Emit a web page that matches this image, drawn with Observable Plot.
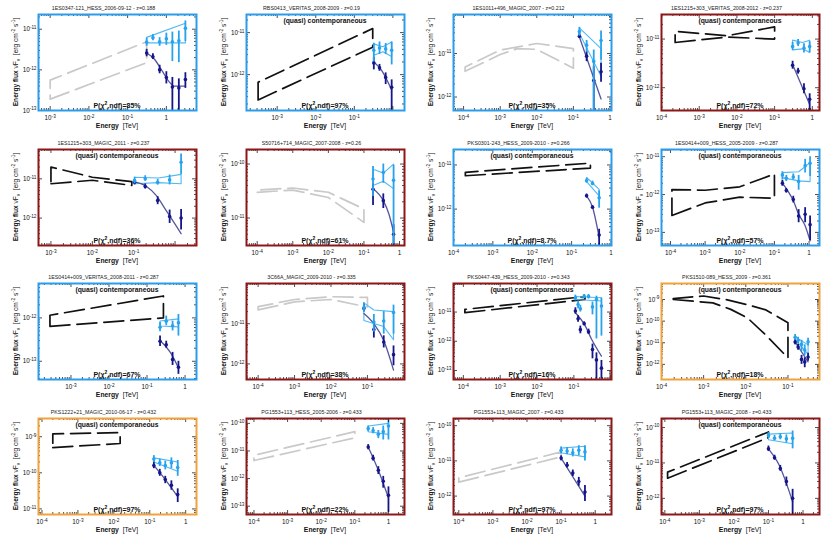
<!DOCTYPE html>
<html><head><meta charset="utf-8">
<script src="https://cdn.jsdelivr.net/npm/d3@7"></script>
<script src="https://cdn.jsdelivr.net/npm/@observablehq/plot@0.6"></script>
<style>
body{margin:0;background:#fff;}
#grid{position:relative;width:830px;height:538px;background:#fff;}
.panel{position:absolute;}
svg text{white-space:pre;}
</style></head><body><div id="grid"></div>
<script>
// ---------- DATA ----------
const titles = [
 "1ES0347-121_HESS_2006-09-12 - z=0.188","RBS0413_VERITAS_2008-2009 - z=0.19","1ES1011+496_MAGIC_2007 - z=0.212","1ES1215+303_VERITAS_2008-2012 - z=0.237",
 "1ES1215+303_MAGIC_2011 - z=0.237","S50716+714_MAGIC_2007-2008 - z=0.26","PKS0301-243_HESS_2009-2010 - z=0.266","1ES0414+009_HESS_2005-2009 - z=0.287",
 "1ES0414+009_VERITAS_2008-2011 - z=0.287","3C66A_MAGIC_2009-2010 - z=0.335","PKS0447-439_HESS_2009-2010 - z=0.343","PKS1510-089_HESS_2009 - z=0.361",
 "PKS1222+21_MAGIC_2010-06-17 - z=0.432","PG1553+113_HESS_2005-2006 - z=0.433","PG1553+113_MAGIC_2007 - z=0.433","PG1553+113_MAGIC_2008 - z=0.433"];
const pValues = ["85%","97%","35%","72%","36%","61%","8.7%","57%","67%","38%","16%","18%","97%","22%","97%","97%"];
const frameColors = ["blue","blue","blue","red","red","red","blue","blue","blue","red","red","orange","orange","red","red","red"];
const contemporaneous = [false,true,false,true,true,false,true,true,true,false,true,true,true,false,false,true];
const xDomains = [[5e-4,6],[1.6e-4,2],[5.3e-5,1.1],[1e-4,1.55],[5e-4,3.3],[5e-5,1.38],[1e-4,1.03],[5.5e-5,2],
 [1.4e-4,2],[4.8e-5,1.04],[5.4e-5,1.05],[1e-4,0.56],[8e-5,2],[6e-5,3],[7e-5,3],[8e-5,3]];
const yDomains = [[1e-13,2.3e-11],[1.4e-13,2.7e-11],[4.9e-13,7.9e-11],[3.4e-13,3.2e-11],[2e-13,5.6e-11],[3.1e-12,1.86e-10],[1.5e-13,2.24e-11],[4.5e-14,1.55e-11],
 [3.8e-14,6.2e-12],[4.1e-13,1e-10],[4.9e-14,9.5e-11],[2e-13,5.5e-9],[7e-12,3.2e-9],[5e-14,1.5e-10],[3e-13,1.6e-10],[3.5e-13,1.8e-10]];
const xTickLabels = [[1e-3,1e-2,1e-1,1],[1e-3,1e-2,1e-1],[1e-4,1e-3,1e-2,1e-1,1],[1e-4,1e-3,1e-2,1e-1,1],
 [1e-3,1e-2,1e-1],[1e-4,1e-3,1e-2,1e-1,1],[1e-4,1e-3,1e-2,1e-1,1],[1e-4,1e-3,1e-2,1e-1,1],
 [1e-3,1e-2,1e-1,1],[1e-4,1e-3,1e-2,1e-1],[1e-4,1e-3,1e-2,1e-1],[1e-4,1e-3,1e-2,1e-1],
 [1e-4,1e-3,1e-2,1e-1,1],[1e-4,1e-3,1e-2,1e-1,1],[1e-4,1e-3,1e-2,1e-1,1],[1e-4,1e-3,1e-2,1e-1,1]];
const yTickLabels = [[1e-13,1e-12,1e-11],[1e-12,1e-11],[1e-12,1e-11],[1e-12,1e-11],
 [1e-12,1e-11],[1e-11,1e-10],[1e-12,1e-11],[1e-13,1e-12,1e-11],
 [1e-13,1e-12],[1e-12,1e-11],[1e-13,1e-12,1e-11],[1e-12,1e-11,1e-10,1e-9],
 [1e-11,1e-10,1e-9],[1e-13,1e-12,1e-11,1e-10],[1e-12,1e-11,1e-10],[1e-12,1e-11,1e-10]];
// lower-energy (MWL) butterflies: lower edge left->right, then upper edge right->left
const mwlButterflies = [
 [[1e-3,1.9e-13],[0.31,1.5e-12],[0.31,4.9e-12],[1e-3,5.6e-13]],
 [[3.2e-4,2.5e-13],[0.3,4.5e-12],[0.3,1.25e-11],[3.2e-4,6.6e-13]],
 [[1.1e-4,3.9e-12],[1e-3,9.5e-12],[3e-3,1.3e-11],[1e-2,1.25e-11],[0.1,4.6e-12],[0.1,1.3e-11],[1e-2,1.7e-11],[1e-3,1.2e-11],[1.1e-4,4.9e-12]],
 [[2.3e-4,8.5e-12],[5.5e-3,1.1e-11],[0.1,1e-11],[0.1,1.78e-11],[5.5e-3,1.17e-11],[2.3e-4,1.44e-11]],
 [[1e-3,7.5e-12],[1e-2,9.2e-12],[0.09,6.8e-12],[0.09,8.5e-12],[1e-2,1.1e-11],[1e-3,2e-11]],
 [[1e-4,3e-11],[1e-3,3.3e-11],[1e-2,2.4e-11],[0.1,8.3e-12],[0.1,1.47e-11],[1e-2,3e-11],[1e-3,3.6e-11],[1e-4,3.3e-11]],
 [[2e-4,5.7e-12],[0.3,8.5e-12],[0.3,1.1e-11],[2e-4,6.8e-12]],
 [[1.1e-4,2.8e-13],[1e-3,6e-13],[1e-2,8.5e-13],[0.1,8e-13],[0.1,3.5e-12],[1e-2,1.6e-12],[1e-3,1.3e-12],[1.1e-4,1.35e-12]],
 [[2.8e-4,6.4e-13],[0.27,1e-12],[0.27,3.2e-12],[2.8e-4,1.15e-12]],
 [[1e-4,2.2e-11],[1e-3,3.5e-11],[1e-2,4e-11],[0.1,2.6e-11],[0.1,4.5e-11],[1e-2,4.7e-11],[1e-3,4e-11],[1e-4,2.66e-11]],
 [[1.1e-4,9.5e-12],[0.2,2.7e-11],[0.2,3.4e-11],[1.1e-4,1.23e-11]],
 [[1.9e-4,1e-9],[1.65e-3,7e-10],[4.4e-3,3.5e-10],[1.1e-2,1.4e-10],[2.9e-2,2.4e-11],[0.1,2e-12],[0.1,8.4e-11],[3e-2,3.3e-10],[1e-2,6e-10],[3.3e-3,1e-9],[1e-3,1.45e-9],[1.9e-4,1.1e-9]],
 [[2e-4,5e-10],[1.5e-2,6.5e-10],[1.5e-2,1.3e-9],[2e-4,1.2e-9]],
 [[1e-4,4.5e-12],[0.1,3e-11],[0.1,5e-11],[1e-4,7e-12]],
 [[1e-4,2.5e-12],[0.1,1.3e-11],[0.1,1.8e-11],[1e-4,3.3e-12]],
 [[1.2e-4,3.7e-12],[0.1,5.2e-11],[0.1,7.5e-11],[1.2e-4,5.5e-12]]];
// observed VHE points [E, flux, low, high]
const obsPoints = [
 [[0.31,2.6e-12,2.1e-12,3.2e-12],[0.45,2.1e-12,1.8e-12,2.5e-12],[0.67,1e-12,8e-13,1.3e-12],[1,6.5e-13,4.5e-13,9e-13],[1.43,3.8e-13,1e-13,6.5e-13],[2.1,3.6e-13,1e-13,6e-13],[3.1,5.8e-13,3.5e-13,8.5e-13]],
 [[0.32,1.9e-12,1.3e-12,2.6e-12],[0.45,1.45e-12,1.2e-12,1.75e-12],[0.65,8.6e-13,5.8e-13,1.1e-12],[0.93,5e-13,1.4e-13,7.5e-13]],
 [[0.146,2.5e-11,2.2e-11,2.9e-11],[0.23,8.7e-12,6.5e-12,1.1e-11],[0.36,2.4e-12,4.9e-13,5e-12],[0.57,3.8e-12,2.2e-12,6e-12]],
 [[0.3,2.9e-12,2.4e-12,3.5e-12],[0.42,2.2e-12,1.9e-12,2.5e-12],[0.6,9.5e-13,7.5e-13,1.2e-12],[0.85,5.8e-13,3.4e-13,7.5e-13]],
 [[0.105,8.2e-12,7e-12,9.5e-12],[0.19,6.4e-12,5.5e-12,7.4e-12],[0.38,2.8e-12,2.2e-12,3.5e-12],[0.74,1.1e-12,7.3e-13,1.6e-12],[1.4,1e-12,5e-13,1.65e-12]],
 [[0.18,3.4e-11,1.7e-11,4.3e-11],[0.35,2.1e-11,1.5e-11,2.8e-11],[0.68,5e-12,3.1e-12,7.5e-12]],
 [[0.24,2e-12,1.8e-12,2.2e-12],[0.34,1.1e-12,1e-12,1.2e-12],[0.5,2.6e-13,1.5e-13,3.5e-13]],
 [[0.17,2e-12,1.65e-12,2.4e-12],[0.22,1.27e-12,1.1e-12,1.45e-12],[0.35,7.4e-13,6e-13,9e-13],[0.5,2.7e-13,1.8e-13,4e-13],[0.77,3e-13,1.8e-13,4.5e-13],[1.07,1.6e-13,6e-14,2.7e-13]],
 [[0.22,2.9e-13,2.2e-13,3.8e-13],[0.32,2.4e-13,2e-13,2.9e-13],[0.47,1.1e-13,8e-14,1.6e-13],[0.67,7.3e-14,5e-14,1e-13]],
 [[0.08,2.4e-11,2e-11,3e-11],[0.15,7.2e-12,4.4e-12,1e-11],[0.28,3.5e-12,2.5e-12,5e-12],[0.52,1.7e-12,9e-13,2.8e-12]],
 [[0.11,1.08e-11,8.5e-12,1.4e-11],[0.13,5.9e-12,4.5e-12,7.5e-12],[0.15,2.5e-12,1.8e-12,3.3e-12],[0.19,4e-12,3.4e-12,4.6e-12],[0.25,2.1e-12,1.7e-12,2.6e-12],[0.32,5.2e-13,2.5e-13,8e-13],[0.41,2.3e-13,5e-14,4e-13],[0.56,1.2e-13,5e-14,2.2e-13]],
 [[0.148,1.07e-11,8e-12,1.4e-11],[0.174,6.3e-12,4.5e-12,8.5e-12],[0.21,1.7e-12,1e-12,2.6e-12],[0.25,1.3e-12,7e-13,2e-12],[0.3,2.2e-12,1.4e-12,3.3e-12]],
 [[0.13,1.6e-10,1.3e-10,2e-10],[0.19,1e-10,8e-11,1.25e-10],[0.27,6.5e-11,5e-11,8e-11],[0.4,4.5e-11,3.3e-11,6e-11],[0.6,2.5e-11,1.5e-11,3.6e-11]],
 [[0.25,1.4e-11,1.1e-11,1.7e-11],[0.35,5.5e-12,4.3e-12,7e-12],[0.5,2e-12,1.4e-12,2.7e-12],[0.7,8e-13,4.5e-13,1.2e-12],[1,2.5e-13,6e-14,5e-13]],
 [[0.1,1.2e-11,1e-11,1.4e-11],[0.15,7.5e-12,6.3e-12,9e-12],[0.22,4.5e-12,3.6e-12,5.5e-12],[0.33,2.6e-12,1.9e-12,3.4e-12],[0.5,1.3e-12,7e-13,2e-12]],
 [[0.1,2.5e-11,2.1e-11,3e-11],[0.15,1.4e-11,1.2e-11,1.65e-11],[0.22,7e-12,5.8e-12,8.5e-12],[0.33,3e-12,2.2e-12,4e-12],[0.5,1e-12,3.5e-13,1.8e-12]]];
// EBL-deabsorbed VHE points [E, flux, low, high]
const deabsPoints = [
 [[0.31,4.8e-12,3.8e-12,6e-12],[0.45,6.2e-12,5.2e-12,7.4e-12],[0.67,4.9e-12,3.8e-12,6.2e-12],[1,5.8e-12,4e-12,8e-12],[1.43,4.9e-12,1.6e-12,8.5e-12],[2.1,5.2e-12,1.5e-12,9e-12],[3.1,1.05e-11,5e-12,1.6e-11]],
 [[0.32,3.8e-12,2e-12,5.6e-12],[0.45,4.3e-12,3e-12,6e-12],[0.65,4.1e-12,3e-12,5.5e-12],[0.93,3.8e-12,1.7e-12,6e-12]],
 [[0.146,3.2e-11,2.5e-11,4e-11],[0.23,1.56e-11,1.05e-11,2e-11],[0.36,6.6e-12,4.9e-13,1.2e-11],[0.57,2e-11,7e-12,3.3e-11]],
 [[0.3,7e-12,5.8e-12,8.5e-12],[0.42,8.3e-12,7e-12,9.8e-12],[0.6,6.5e-12,5.2e-12,8e-12],[0.85,7e-12,5.2e-12,8.8e-12]],
 [[0.105,9.1e-12,7.5e-12,1.1e-11],[0.19,1e-11,8.7e-12,1.2e-11],[0.38,8.2e-12,6.9e-12,9.7e-12],[0.74,9.4e-12,7e-12,1.25e-11],[1.4,2.65e-11,1.3e-11,4.3e-11]],
 [[0.18,5.3e-11,2.5e-11,9e-11],[0.35,7e-11,4.4e-11,1e-10],[0.68,5e-11,3.2e-12,9.5e-11]],
 [[0.24,4.4e-12,3.9e-12,5e-12],[0.34,3.8e-12,3.4e-12,4.3e-12],[0.5,1.8e-12,1.05e-12,2.6e-12]],
 [[0.17,3.3e-12,2.5e-12,4e-12],[0.22,2.7e-12,2.2e-12,3.2e-12],[0.35,2.9e-12,2.4e-12,3.5e-12],[0.5,2.2e-12,1.3e-12,3.2e-12],[0.77,5.8e-12,3.7e-12,8.5e-12],[1.07,6.7e-12,3e-12,1e-11]],
 [[0.22,6.1e-13,4.8e-13,7.8e-13],[0.32,8.4e-13,6.6e-13,1.1e-12],[0.47,6.6e-13,5e-13,8.4e-13],[0.67,7.7e-13,3.8e-13,1.2e-12]],
 [[0.08,2.5e-11,1.9e-11,3.3e-11],[0.15,1.1e-11,6.2e-12,1.7e-11],[0.28,1.17e-11,5.5e-12,2e-11],[0.52,1.9e-11,5.5e-12,2.9e-11]],
 [[0.11,3.1e-11,2.4e-11,3.8e-11],[0.13,1.8e-11,1.3e-11,2.4e-11],[0.15,1.3e-11,1e-11,1.7e-11],[0.19,3.5e-11,2.9e-11,4e-11],[0.25,3.4e-11,2.8e-11,4e-11],[0.32,1.5e-11,8e-12,2.2e-11],[0.41,2.7e-11,1.2e-12,3.5e-11],[0.56,1.6e-11,1.5e-12,3e-11]],
 [[0.148,1.8e-11,1.3e-11,2.4e-11],[0.174,1.3e-11,9e-12,1.8e-11],[0.21,8.4e-12,4e-12,1.3e-11],[0.25,4.6e-12,2.5e-12,8e-12],[0.3,1.1e-11,7e-12,1.6e-11]],
 [[0.13,2.4e-10,1.9e-10,3e-10],[0.19,1.9e-10,1.5e-10,2.4e-10],[0.27,1.6e-10,1.2e-10,2.1e-10],[0.4,1.9e-10,1.3e-10,2.6e-10],[0.6,1.4e-10,8e-11,2.2e-10]],
 [[0.25,6.5e-11,5e-11,8e-11],[0.35,5.5e-11,4.2e-11,7e-11],[0.5,4e-11,2.8e-11,5.5e-11],[0.7,5e-11,2.5e-11,8e-11],[1,8e-11,2.5e-11,1.4e-10]],
 [[0.1,2e-11,1.6e-11,2.5e-11],[0.15,1.9e-11,1.5e-11,2.4e-11],[0.22,1.7e-11,1.3e-11,2.2e-11],[0.33,2e-11,1.4e-11,2.7e-11],[0.5,1.8e-11,1e-11,2.7e-11]],
 [[0.1,6e-11,5e-11,7.2e-11],[0.15,5e-11,4.2e-11,6e-11],[0.22,5.5e-11,4.5e-11,6.8e-11],[0.33,4.8e-11,3.6e-11,6.2e-11],[0.5,5e-11,2.5e-11,8e-11]]];
// fit to observed spectrum
const obsFits = [
 [[0.31,2.6e-12],[0.5,1.8e-12],[0.8,9e-13],[1.2,5e-13],[1.6,4e-13],[3.1,4e-13]],
 [[0.32,2e-12],[0.5,1.3e-12],[0.93,4.3e-13]],
 [[0.146,2.4e-11],[0.57,9e-13]],
 [[0.3,3e-12],[0.85,4.5e-13]],
 [[0.1,8.5e-12],[0.2,6.5e-12],[0.35,3.8e-12],[0.6,1.6e-12],[1,7e-13],[1.4,4e-13]],
 [[0.18,3.5e-11],[0.35,2.1e-11],[0.5,1.2e-11],[0.68,5.5e-12]],
 [[0.24,2e-12],[0.34,1.1e-12],[0.5,2.3e-13]],
 [[0.17,2e-12],[0.25,1.2e-12],[0.35,7e-13],[0.5,3e-13],[0.77,1.5e-13],[1.07,6e-14]],
 [[0.22,3e-13],[0.45,1.4e-13],[0.67,7e-14]],
 [[0.08,1.8e-11],[0.15,1e-11],[0.28,3.8e-12],[0.52,7e-13]],
 [[0.11,9.5e-12],[0.2,3.5e-12],[0.3,1.2e-12],[0.56,3.1e-13]],
 [[0.148,1.1e-11],[0.3,1.3e-12]],
 [[0.13,1.6e-10],[0.27,6.5e-11],[0.6,2.2e-11]],
 [[0.25,1.4e-11],[0.5,2e-12],[1,2e-13]],
 [[0.1,1.2e-11],[0.5,1e-12]],
 [[0.1,2.5e-11],[0.2,9e-12],[0.5,8e-13]]];
// deabsorbed fit band: lower edge left->right, then upper edge right->left
const deabsBands = [
 [[0.31,4.6e-12],[3.1,4.6e-12],[3.1,1.4e-11],[0.31,6.3e-12]],
 [[0.32,2.9e-12],[0.55,3.5e-12],[0.93,2.7e-12],[0.93,6e-12],[0.55,4.6e-12],[0.32,5.4e-12]],
 [[0.146,2.9e-11],[0.57,3e-12],[0.57,1.3e-11],[0.146,3.9e-11]],
 [[0.3,6e-12],[0.55,6.3e-12],[0.85,5.3e-12],[0.85,9.5e-12],[0.55,8.5e-12],[0.3,9.5e-12]],
 [[0.105,7.5e-12],[0.4,8e-12],[1.4,7.5e-12],[1.4,1.3e-11],[0.4,1.05e-11],[0.105,1.1e-11]],
 [[0.18,4e-11],[0.35,4.8e-11],[0.68,3.5e-11],[0.68,1e-10],[0.35,6.8e-11],[0.18,8e-11]],
 [[0.24,4.2e-12],[0.5,2e-12],[0.5,2.8e-12],[0.24,5.2e-12]],
 [[0.17,2.8e-12],[0.5,2.3e-12],[1.07,2.2e-12],[1.07,7e-12],[0.5,4e-12],[0.17,3.8e-12]],
 [[0.22,6.5e-13],[0.67,6.2e-13],[0.67,9.5e-13],[0.22,8.5e-13]],
 [[0.08,1.2e-11],[0.28,8.5e-12],[0.52,4e-12],[0.52,2e-11],[0.15,2.2e-11],[0.08,3.3e-11]],
 [[0.11,2.7e-11],[0.56,2.4e-11],[0.56,3.1e-11],[0.11,3.4e-11]],
 [[0.148,1.4e-11],[0.3,3e-12],[0.3,8e-12],[0.148,1.9e-11]],
 [[0.13,2e-10],[0.6,1.1e-10],[0.6,2e-10],[0.13,2.6e-10]],
 [[0.25,5e-11],[1,4e-11],[1,1e-10],[0.25,8e-11]],
 [[0.1,1.7e-11],[0.5,1.3e-11],[0.5,2.6e-11],[0.1,2.3e-11]],
 [[0.1,4.5e-11],[0.5,3.5e-11],[0.5,7e-11],[0.1,6.5e-11]]];

// ---------- STYLE ----------
const FONT = '"Liberation Sans", Arial, Helvetica, sans-serif';
const FRAME = {blue:"#2b9cec", red:"#8e1616", orange:"#f2a23c"};
const C_DEABS = "#27a3ee", C_BAND = "#4fb8f4", C_OBS = "#15168a", C_FIT = "#55559e";
const C_GRAY = "#c9c9c9", C_BLACK = "#111";
const W = 207, H = 134, mL = 38, mR = 11, mT = 14, mB = 24;
const iw = W - mL - mR, ih = H - mT - mB;

const closed = p => p.concat([p[0]]);
const fmt = v => { const e = Math.round(Math.log10(v)); return e === 0 ? "1" : "10^" + e; };
function logTicks(dom) {
  const out = [];
  const a = Math.floor(Math.log10(dom[0])), b = Math.ceil(Math.log10(dom[1]));
  for (let k = a; k <= b; k++) for (let m = 1; m <= 9; m++) {
    const v = m * Math.pow(10, k);
    if (v >= dom[0] * 0.9999 && v <= dom[1] * 1.0001) out.push({v, major: m === 1});
  }
  return out;
}
function sup(sel, txt, up) {
  sel.append("tspan").attr("dy", -up).attr("font-size", "0.72em").text(txt);
  return sel.append("tspan").attr("dy", up);
}

const grid = document.getElementById("grid");
for (let i = 0; i < 16; i++) {
  const col = i % 4, row = Math.floor(i / 4);
  const xt = logTicks(xDomains[i]), yt = logTicks(yDomains[i]);
  const xMaj = xt.filter(d => d.major), xMin = xt.filter(d => !d.major);
  const yMaj = yt.filter(d => d.major), yMin = yt.filter(d => !d.major);
  const tk = {stroke: "#000", strokeWidth: 0.7};
  const marks = [
    Plot.line(closed(mwlButterflies[i]), {x: d => d[0], y: d => d[1], stroke: contemporaneous[i] ? C_BLACK : C_GRAY,
      strokeWidth: 1.7, strokeDasharray: "20,7", clip: true}),
    Plot.line(closed(deabsBands[i]), {x: d => d[0], y: d => d[1], stroke: C_BAND, strokeWidth: 1.1, clip: true}),
    Plot.line(obsFits[i], {x: d => d[0], y: d => d[1], stroke: C_FIT, strokeWidth: 1.3, curve: "monotone-x", clip: true}),
    Plot.ruleX(obsPoints[i], {x: d => d[0], y1: d => d[2], y2: d => d[3], stroke: C_OBS, strokeWidth: 1.8, clip: true}),
    Plot.dot(obsPoints[i], {x: d => d[0], y: d => d[1], r: 1.8, fill: C_OBS, stroke: "none", clip: true}),
    Plot.ruleX(deabsPoints[i], {x: d => d[0], y1: d => d[2], y2: d => d[3], stroke: C_DEABS, strokeWidth: 1.8, clip: true}),
    Plot.dot(deabsPoints[i], {x: d => d[0], y: d => d[1], r: 1.8, fill: C_DEABS, stroke: "none", clip: true}),
    Plot.tickX(xMin, {x: "v", ...tk, insetTop: ih - 2}),
    Plot.tickX(xMaj, {x: "v", ...tk, insetTop: ih - 4}),
    Plot.tickX(xMin, {x: "v", ...tk, insetBottom: ih - 2}),
    Plot.tickX(xMaj, {x: "v", ...tk, insetBottom: ih - 4}),
    Plot.tickY(yMin, {y: "v", ...tk, insetRight: iw - 2}),
    Plot.tickY(yMaj, {y: "v", ...tk, insetRight: iw - 4}),
    Plot.tickY(yMin, {y: "v", ...tk, insetLeft: iw - 2}),
    Plot.tickY(yMaj, {y: "v", ...tk, insetLeft: iw - 4}),
    Plot.frame({stroke: FRAME[frameColors[i]], strokeWidth: 2})
  ];
  const svg = Plot.plot({
    width: W, height: H, marginLeft: mL, marginRight: mR, marginTop: mT, marginBottom: mB,
    style: {fontFamily: FONT, fontSize: "6.3px", color: "#111", background: "transparent", overflow: "visible"},
    x: {type: "log", domain: xDomains[i], ticks: xTickLabels[i], tickFormat: fmt, tickSize: 0, tickPadding: 5, label: null},
    y: {type: "log", domain: yDomains[i], ticks: yTickLabels[i], tickFormat: fmt, tickSize: 0, tickPadding: 2, label: null},
    marks
  });
  const s = d3.select(svg);
  s.selectAll("text").each(function() {
    const m = /^10\^(-?\d+)$/.exec(this.textContent);
    const t = d3.select(this);
    if (m) {
      t.text(null).attr("font-size", 6.3).attr("fill", "#111");
      t.append("tspan").text("10");
      t.append("tspan").attr("dy", "-0.45em").attr("font-size", "0.75em").text(m[1]);
    } else if (this.textContent === "1") {
      t.attr("font-size", 6.3).attr("fill", "#111");
    }
  });
  // title
  s.append("text").attr("x", W / 2).attr("y", 9.5).attr("text-anchor", "middle").attr("font-size", 5.3)
    .attr("fill", "#222").attr("font-family", FONT).text(titles[i]);
  // (quasi) contemporaneous
  if (contemporaneous[i]) {
    s.append("text").attr("x", mL + iw / 2).attr("y", mT + 9).attr("text-anchor", "middle").attr("font-size", 6.8)
      .attr("font-weight", "bold").attr("fill", "#111").attr("font-family", FONT).text("(quasi) contemporaneous");
  }
  // x axis title
  const xl = s.append("text").attr("x", mL + iw / 2).attr("y", 127.5).attr("text-anchor", "middle")
    .attr("font-size", 6.8).attr("fill", "#111").attr("font-family", FONT);
  xl.append("tspan").attr("font-weight", "bold").text("Energy");
  xl.append("tspan").text("  [TeV]");
  // y axis title
  const yl = s.append("text").attr("transform", `translate(18,${mT + ih / 2}) rotate(-90)`).attr("text-anchor", "middle")
    .attr("font-size", 6.6).attr("fill", "#111").attr("font-family", FONT);
  yl.append("tspan").attr("font-weight", "bold").text("Energy flux");
  yl.append("tspan").text(" \u03BDF");
  yl.append("tspan").attr("dy", 1.5).attr("font-size", "0.72em").text("\u03BD");
  yl.append("tspan").attr("dy", -1.5).text("  [erg cm");
  sup(yl, "-2", 2.6).text(" s");
  sup(yl, "-1", 2.6).text("]");
  // chi2 probability
  const pt = s.append("text").attr("x", mL + iw / 2).attr("y", H - mB - 2.5).attr("text-anchor", "middle")
    .attr("font-size", 7).attr("font-weight", "bold").attr("fill", "#111").attr("font-family", FONT);
  pt.append("tspan").text("P(\u03C7");
  sup(pt, "2", 2.6).text(",ndf)=" + pValues[i]);

  const div = document.createElement("div");
  div.className = "panel";
  div.style.left = Math.round(col * 207.5) + "px";
  div.style.top = Math.round(row * 134.5) + "px";
  div.appendChild(svg);
  grid.appendChild(div);
}
</script>
</body></html>
